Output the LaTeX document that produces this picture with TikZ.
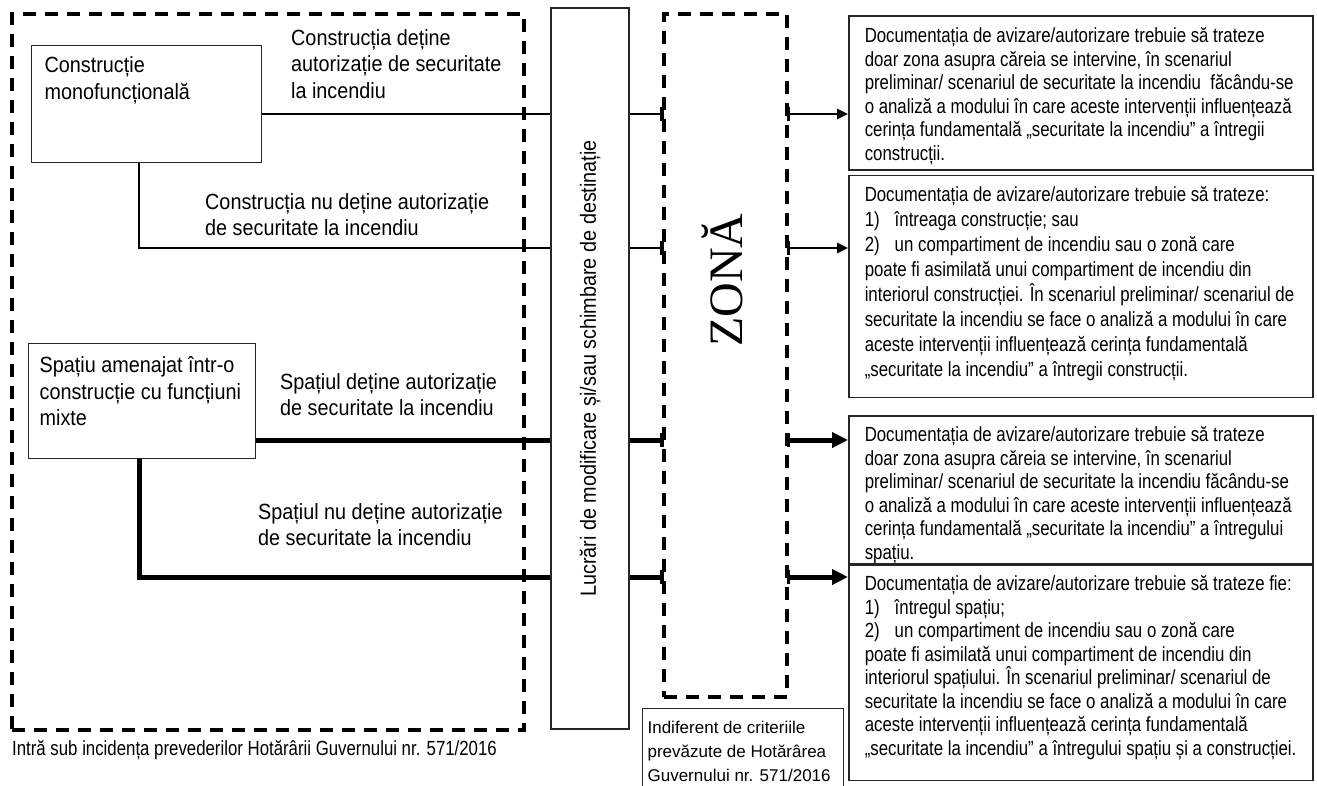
\documentclass[tikz,border=0pt]{standalone}
\usepackage{fontspec}
\setmainfont{Liberation Sans}
\newfontfamily\narrowfont{Liberation Sans}[FakeStretch=0.82]
\newfontfamily\labelfont{Liberation Sans}[FakeStretch=0.9]
\newfontfamily\zonefont{Liberation Serif}
\usetikzlibrary{arrows.meta, positioning, calc}
\newcommand{\boxtext}[5]{\parbox[c][#2][t]{#1}{\vspace*{#3}\leftskip=#4\rightskip=0pt plus 1fil\parfillskip=0pt plus 1fil #5}}
\newcommand{\nr}[1]{\makebox[30pt][l]{#1}}

\begin{document}
\begin{tikzpicture}[x=1pt, y=-1pt, >=Triangle,
    every node/.style={inner sep=0pt},
    frame/.style={draw, dash pattern=on 13pt off 9pt, line width=3.5pt, anchor=north west},
    srcbox/.style={draw=black!85, line width=1.3pt, anchor=north west, font={\labelfont\fontsize{22}{26.5}\selectfont}},
    lbl/.style={align=left, anchor=north west, font={\labelfont\fontsize{22}{26.5}\selectfont}},
    docbox/.style={draw=black!85, line width=1.5pt, font={\narrowfont\fontsize{20.5}{23.5}\selectfont}},
    conn/.style={line width=2.5pt},
    heavy/.style={line width=5pt},
    tick/.style={line width=3.5pt},
    thinarr/.style={conn, -{Triangle[length=11pt, width=10pt]}},
    heavyarr/.style={heavy, -{Triangle[length=16pt, width=15pt]}}]
  \useasboundingbox (0,0) rectangle (1317,785);

  % groups
  \node[frame, minimum width=512pt, minimum height=716pt] (hg) at (10,12) {};
  \node[anchor=west, font={\narrowfont\fontsize{20.5}{23.5}\selectfont}] (hgt) at (12,750)
    {Intră sub incidența prevederilor Hotărârii Guvernului nr. 571/2016};
  \node[frame, minimum width=123pt, minimum height=683pt] (zona) at (662,12) {};
  \node[font={\zonefont\fontsize{48}{48}\selectfont}] (zonat) at (722,280) {\rotatebox{90}{ZONĂ}};
  \node[draw=black!85, line width=1.2pt, minimum width=78pt, minimum height=721pt,
    font={\labelfont\fontsize{22}{26.5}\selectfont}] (lucr) at (590,368.5)
    {\rotatebox{90}{Lucrări de modificare și/sau schimbare de destinație}};
  \node[draw=black!85, line width=1.2pt, anchor=north west, font={\fontsize{17}{24}\selectfont}] (indif) at (642,708)
    {\boxtext{201pt}{90pt}{13pt}{5pt}{Indiferent de criteriile\\prevăzute de Hotărârea\\Guvernului nr. 571/2016}};

  % starting situations
  \node[srcbox] (mono) at (31,45) {\boxtext{230pt}{117pt}{11.3pt}{13pt}{Construcție\\monofuncțională}};
  \node[srcbox] (spat) at (28,343) {\boxtext{227pt}{115pt}{13.3pt}{11pt}{Spațiu amenajat într-o\\construcție cu funcțiuni\\mixte}};
  \node[lbl] (t1) at (291,29.3) {Construcția deține\\autorizație de securitate\\la incendiu};
  \node[lbl] (t2) at (205,193.3) {Construcția nu deține autorizație\\de securitate la incendiu};
  \node[lbl] (t3) at (280,373.3) {Spațiul deține autorizație\\de securitate la incendiu};
  \node[lbl] (t4) at (258,503.3) {Spațiul nu deține autorizație\\de securitate la incendiu};

  % documentation boxes
  \node[docbox, anchor=north west] (doc1) at (848,15) {\boxtext{464pt}{154pt}{12pt}{16pt}{%
    Documentația de avizare/autorizare trebuie să trateze\\
    doar zona asupra căreia se intervine, în scenariul\\
    preliminar/ scenariul de securitate la incendiu\ \ făcându-se\\
    o analiză a modului în care aceste intervenții influențează\\
    cerința fundamentală „securitate la incendiu” a întregii\\
    construcții.}};
  \node[docbox, below=4pt of doc1] (doc2) {\boxtext{464pt}{222pt}{11pt}{16pt}{%
    \baselineskip=25pt
    Documentația de avizare/autorizare trebuie să trateze:\\
    \nr{1)}întreaga construcție; sau\\
    \nr{2)}un compartiment de incendiu sau o zonă care\\
    poate fi asimilată unui compartiment de incendiu din\\
    interiorul construcției. În scenariul preliminar/ scenariul de\\
    securitate la incendiu se face o analiză a modului în care\\
    aceste intervenții influențează cerința fundamentală\\
    „securitate la incendiu” a întregii construcții.}};
  \node[docbox, below=17pt of doc2] (doc3) {\boxtext{464pt}{148pt}{11pt}{16pt}{%
    Documentația de avizare/autorizare trebuie să trateze\\
    doar zona asupra căreia se intervine, în scenariul\\
    preliminar/ scenariul de securitate la incendiu făcându-se\\
    o analiză a modului în care aceste intervenții influențează\\
    cerința fundamentală „securitate la incendiu” a întregului\\
    spațiu.}};
  \node[docbox, below=0pt of doc3] (doc4) {\boxtext{464pt}{215pt}{10.5pt}{16pt}{%
    Documentația de avizare/autorizare trebuie să trateze fie:\\
    \nr{1)}întregul spațiu;\\
    \nr{2)}un compartiment de incendiu sau o zonă care\\
    poate fi asimilată unui compartiment de incendiu din\\
    interiorul spațiului. În scenariul preliminar/ scenariul de\\
    securitate la incendiu se face o analiză a modului în care\\
    aceste intervenții influențează cerința fundamentală\\
    „securitate la incendiu” a întregului spațiu și a construcției.}};

  % rows
  \coordinate (r1) at (0,114);
  \coordinate (r2) at (0,248);
  \coordinate (r3) at (0,440);
  \coordinate (r4) at (0,577);
  \coordinate (c1) at (139,0);

  \draw[conn] (mono.east |- r1) -- (lucr.west |- r1);
  \draw[conn] (mono.south -| c1) |- (lucr.west |- r2);
  \draw[heavy] (spat.east |- r3) -- (lucr.west |- r3);
  \draw[heavy] (spat.south -| c1) |- (lucr.west |- r4);

  \foreach \r/\s in {r1/conn, r2/conn, r3/heavy, r4/heavy}{
    \draw[\s] (lucr.east |- \r) -- (zona.west |- \r);
    \draw[tick] ($(zona.west |- \r)+(0,-7)$) -- ++(0,14);
    \draw[tick] ($(zona.east |- \r)+(0,-7)$) -- ++(0,14);
  }

  \draw[thinarr] (zona.east |- r1) -- (doc1.west |- r1);
  \draw[thinarr] (zona.east |- r2) -- (doc2.west |- r2);
  \draw[heavyarr] (zona.east |- r3) -- (doc3.west |- r3);
  \draw[heavyarr] (zona.east |- r4) -- (doc4.west |- r4);
\end{tikzpicture}
\end{document}
